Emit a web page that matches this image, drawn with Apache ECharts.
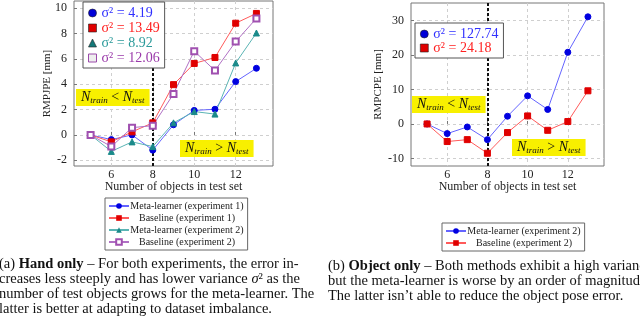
<!DOCTYPE html>
<html>
<head>
<meta charset="utf-8">
<script src="https://cdn.jsdelivr.net/npm/echarts@6/dist/echarts.min.js"></script>
<style>
  body { margin: 0; background: #fff; }
  .chart { position: absolute; top: 0; width: 320px; height: 324px; }
</style>
</head>
<body>
<div id="hand" class="chart" style="left: 0"></div>
<div id="obj" class="chart" style="left: 320px"></div>
<script>
// number of objects in the test set
var objectCounts = [5, 6, 7, 8, 9, 10, 11, 12, 13];
// hand only (RMPJPE, mm)
var metaExp1 = [0, -0.37, 0, -1.2, 0.8, 1.93, 2.02, 4.2, 5.25];
var baseExp1 = [0, -0.55, 0.24, 0.95, 3.96, 5.63, 6.1, 8.8, 9.57];
var metaExp2 = [0, -1.3, -0.55, -0.92, 0.95, 1.84, 1.64, 5.67, 8.03];
var baseExp2 = [0, -0.92, 0.57, 0.73, 3.23, 6.6, 5.07, 7.35, 9.18];
// object only (RMPCPE, mm)
var metaObj = [0, -2.8, -0.87, -4.55, 2.24, 8.16, 4.2, 20.8, 31.1];
var baseObj = [0, -5.1, -4.55, -8.5, -2.5, 2.33, -1.84, 0.7, 9.62];
// variances shown in the inner legends
var varHand = [4.19, 13.49, 8.92, 12.06];
var varObj = [127.74, 24.18];
// tick labels
var xTicks = [6, 8, 10, 12];
var yTicksHand = [-2, 0, 2, 4, 6, 8, 10];
var yTicksObj = [-10, 0, 10, 20, 30];

var handNames = ['Meta-learner (experiment 1)', 'Baseline (experiment 1)',
                 'Meta-learner (experiment 2)', 'Baseline (experiment 2)'];
var objNames = ['Meta-learner (experiment 2)', 'Baseline (experiment 2)'];

var SERIF = '"Liberation Serif", "DejaVu Serif", serif';

function pairs (vals) {
  return objectCounts.map(function (x, i) { return [x, vals[i]]; });
}

function lineSeries (name, vals, symbol, mark, line, withVLine) {
  var s = {
    name: name,
    type: 'line',
    data: pairs(vals),
    symbol: symbol,
    symbolSize: 6,
    itemStyle: { color: mark, borderColor: mark },
    lineStyle: { color: line, width: 1 },
    animation: false
  };
  if (symbol === 'emptyRect') {
    s.itemStyle = { color: mark, borderWidth: 1 };
  }
  if (withVLine) {
    // dashed separator at 8 objects
    s.markLine = {
      silent: true,
      symbol: 'none',
      z: 3,
      label: { show: false },
      lineStyle: { color: '#111', type: [3, 2], width: 2 },
      data: [{ xAxis: 8 }]
    };
  }
  return s;
}

function xAxisCfg () {
  return {
    type: 'value', min: 4.2, max: 13.8,
    name: 'Number of objects in test set',
    nameLocation: 'middle', nameGap: 15, nameMoveOverlap: false,
    nameTextStyle: { fontFamily: SERIF, fontSize: 12, color: '#222' },
    axisLine: { show: false },
    axisTick: { customValues: xTicks, inside: true, length: 3, lineStyle: { color: '#777' } },
    axisLabel: { customValues: xTicks, margin: 3, fontFamily: SERIF, fontSize: 12, color: '#222' },
    splitLine: { show: true, lineStyle: { color: '#cfcfcf', type: [3, 3] } }
  };
}

function yAxisCfg (min, max, ticks, name, gap) {
  return {
    type: 'value', min: min, max: max,
    name: name, nameLocation: 'middle', nameGap: gap, nameRotate: 90,
    nameMoveOverlap: false,
    nameTextStyle: { fontFamily: SERIF, fontSize: 11, color: '#222' },
    axisLine: { show: false },
    axisTick: { customValues: ticks, inside: true, length: 3, lineStyle: { color: '#777' } },
    axisLabel: { customValues: ticks, margin: 7, fontFamily: SERIF, fontSize: 12, color: '#222' },
    splitLine: { show: true, lineStyle: { color: '#cfcfcf', type: [3, 3] } }
  };
}

// yellow "N_train < N_test" boxes
function regimeBox (left, top, sign) {
  return {
    type: 'text', left: left, top: top, z: 5,
    style: {
      text: '{n|N}{s|train}{o| ' + sign + ' }{n|N}{s|test}',
      backgroundColor: '#f8f000',
      padding: [1, 5, 1, 5],
      rich: {
        n: { font: 'italic 14px ' + SERIF, lineHeight: 15, fill: '#111' },
        s: { font: 'italic 9px ' + SERIF, lineHeight: 9, verticalAlign: 'bottom', fill: '#111' },
        o: { font: '14px ' + SERIF, lineHeight: 15, fill: '#111' }
      }
    }
  };
}

function captionText (left, top, text) {
  return {
    type: 'text', left: left, top: top,
    style: {
      text: text,
      font: '14.5px ' + SERIF,
      lineHeight: 15,
      fill: '#111',
      rich: {
        b: { font: 'bold 14.5px ' + SERIF, lineHeight: 15, fill: '#111' },
        i: { font: 'italic 14.5px ' + SERIF, lineHeight: 15, fill: '#111' }
      }
    }
  };
}

function innerLegend (names, vars, icons, marks, left, top, gap) {
  return {
    z: 10,
    data: names.map(function (n, i) {
      var item = { name: n, icon: icons[i], textStyle: { color: marks[i].text } };
      item.itemStyle = marks[i].hollow
        ? { color: '#eeeeee', borderColor: marks[i].mark, borderWidth: 1 }
        : { color: marks[i].mark, borderColor: '#222', borderWidth: 0.6 };
      return item;
    }),
    formatter: function (n) {
      return 'σ² = ' + vars[names.indexOf(n)].toFixed(2);
    },
    orient: 'vertical', left: left, top: top,
    itemWidth: 8, itemHeight: 8, itemGap: gap,
    itemTextGap: 5,
    padding: [4, 5, 3, 5],
    backgroundColor: '#fff', borderColor: '#555', borderWidth: 1,
    selectedMode: false,
    textStyle: { fontFamily: SERIF, fontSize: 14, lineHeight: 12 }
  };
}

function bottomLegend (names, left, top) {
  return {
    data: names,
    formatter: function (n) { return '{c|' + n + '}'; },
    orient: 'vertical', left: left, top: top,
    itemWidth: 20, itemHeight: 7, itemGap: 2,
    itemTextGap: 3,
    padding: [3, 4, 3, 3],
    borderColor: '#666', borderWidth: 1,
    selectedMode: false,
    textStyle: {
      fontFamily: SERIF, fontSize: 10, lineHeight: 9, color: '#222',
      rich: { c: { width: 106, align: 'center', fontFamily: SERIF, fontSize: 10, lineHeight: 9 } }
    }
  };
}

var hand = echarts.init(document.getElementById('hand'));
hand.setOption({
  animation: false,
  grid: { left: 74, right: 47, top: 1, bottom: 158, show: true, borderColor: '#777', borderWidth: 1 },
  xAxis: xAxisCfg(),
  yAxis: yAxisCfg(-2.45, 10.55, yTicksHand, 'RMPJPE [mm]', 21),
  legend: [
    innerLegend(handNames, varHand, ['circle', 'rect', 'triangle', 'rect'], [
      { mark: '#0000d8', text: '#3030ff' },
      { mark: '#e00000', text: '#ff2020' },
      { mark: '#137878', text: '#2a9a9a' },
      { mark: '#9a4aaa', text: '#9a3aaa', hollow: true }
    ], 83, 2, 1),
    bottomLegend(handNames, 105, 198)
  ],
  series: [
    lineSeries(handNames[0], metaExp1, 'circle', '#0000e0', '#6464ff', true),
    lineSeries(handNames[1], baseExp1, 'rect', '#e00000', '#ff5a5a'),
    lineSeries(handNames[2], metaExp2, 'triangle', '#1a8a8a', '#5ab4b4'),
    lineSeries(handNames[3], baseExp2, 'emptyRect', '#a050b0', '#b070c4')
  ],
  graphic: [
    regimeBox(76, 89, '<'),
    regimeBox(180, 140, '>'),
    captionText(-1, 257,
      '(a) {b|Hand only} – For both experiments, the error in-\n' +
      'creases less steeply and has lower variance {i|σ}² as the\n' +
      'number of test objects grows for the meta-learner. The\n' +
      'latter is better at adapting to dataset imbalance.')
  ]
});

var obj = echarts.init(document.getElementById('obj'));
obj.setOption({
  animation: false,
  grid: { left: 91, right: 36, top: 3, bottom: 158, show: true, borderColor: '#777', borderWidth: 1 },
  xAxis: xAxisCfg(),
  yAxis: yAxisCfg(-12.2, 35.1, yTicksObj, 'RMPCPE [mm]', 27),
  legend: [
    innerLegend(objNames, varObj, ['circle', 'rect'], [
      { mark: '#0000d8', text: '#3030ff' },
      { mark: '#e00000', text: '#ff2020' }
    ], 95, 23, 0),
    bottomLegend(objNames, 122, 223)
  ],
  series: [
    lineSeries(objNames[0], metaObj, 'circle', '#0000e0', '#6464ff', true),
    lineSeries(objNames[1], baseObj, 'rect', '#e00000', '#ff5a5a')
  ],
  graphic: [
    regimeBox(92, 96, '<'),
    regimeBox(192, 139, '>'),
    captionText(8, 259,
      '(b) {b|Object only} – Both methods exhibit a high variance,\n' +
      'but the meta-learner is worse by an order of magnitude.\n' +
      'The latter isn’t able to reduce the object pose error.')
  ]
});
</script>
</body>
</html>
